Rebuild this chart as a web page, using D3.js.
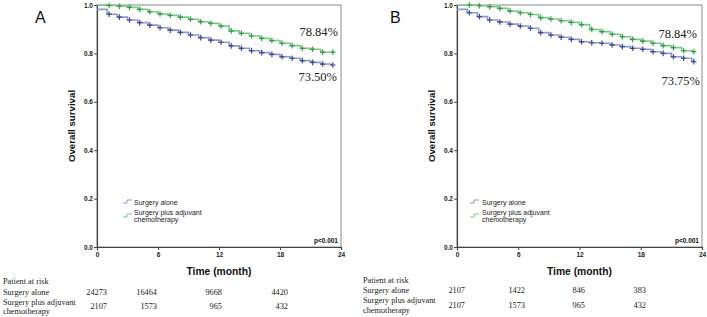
<!DOCTYPE html>
<html>
<head>
<meta charset="utf-8">
<script src="https://cdn.jsdelivr.net/npm/d3@7"></script>
<style>
  body { margin: 0; background: #fff; }
  svg { display: block; }
</style>
</head>
<body>
<svg id="chart" width="707" height="317"></svg>
<script>
// months where each step starts
const months = d3.range(0, 24);

// Panel A survival estimates
const aloneA = [0.982, 0.962, 0.950, 0.938, 0.927, 0.917, 0.906, 0.896, 0.887, 0.876, 0.865, 0.855,
                0.846, 0.831, 0.821, 0.811, 0.803, 0.796, 0.786, 0.780, 0.770, 0.763, 0.756, 0.752];
const chemoA = [1.000, 0.998, 0.995, 0.990, 0.982, 0.972, 0.963, 0.957, 0.950, 0.941, 0.931, 0.924,
                0.913, 0.893, 0.883, 0.872, 0.862, 0.853, 0.842, 0.832, 0.821, 0.817, 0.805, 0.805];

// Panel B survival estimates
const aloneB = [0.982, 0.968, 0.952, 0.938, 0.930, 0.921, 0.913, 0.904, 0.886, 0.876, 0.867, 0.858,
                0.848, 0.844, 0.842, 0.835, 0.828, 0.821, 0.817, 0.807, 0.800, 0.786, 0.780, 0.766];
const chemoB = [1.000, 1.000, 0.997, 0.993, 0.986, 0.975, 0.968, 0.961, 0.948, 0.942, 0.935, 0.928,
                0.919, 0.899, 0.890, 0.879, 0.869, 0.858, 0.851, 0.842, 0.832, 0.824, 0.811, 0.807];

const xTicks = [0, 6, 12, 18, 24];
const yTicks = [0.0, 0.2, 0.4, 0.6, 0.8, 1.0];

const seriesNames = ["Surgery alone", "Surgery plus adjuvant", "chemotherapy"];
const riskRowLabels = ["Patient at risk", "Surgery alone", "Surgery plus adjuvant", "chemotherapy"];
const riskAloneA = ["24273", "16464", "9668", "4420"];
const riskChemoA = ["2107", "1573", "965", "432"];
const riskAloneB = ["2107", "1422", "846", "383"];
const riskChemoB = ["2107", "1573", "965", "432"];

const endLabelsA = ["78.84%", "73.50%"];
const endLabelsB = ["78.84%", "73.75%"];

const blueLine = "#8f9ad0", blueMark = "#3a4898";
const greenLine = "#7cc98a", greenMark = "#2f9f43";

const svg = d3.select("#chart");

const panels = [
  { letter: "A", left: 97, right: 341, alone: aloneA, chemo: chemoA, ends: endLabelsA,
    letterX: 35, yLabelX: 75, legX: 123, legText: 134, labelX: 3,
    riskAlone: riskAloneA, riskChemo: riskChemoA, riskX: [107, 157, 222, 288],
    rowY: [283.5, 295, 304.5, 314], numY: [295, 309],
    endPos: [[338, 36], [337, 81]] },
  { letter: "B", left: 457, right: 702, alone: aloneB, chemo: chemoB, ends: endLabelsB,
    letterX: 390, yLabelX: 435, legX: 470, legText: 482, labelX: 363,
    riskAlone: riskAloneB, riskChemo: riskChemoB, riskX: [465, 525, 585, 646],
    rowY: [283, 292.5, 302.5, 312.5], numY: [292.5, 308],
    endPos: [[697, 38], [700, 85]] }
];

const plotTop = 5, plotBottom = 247;

panels.forEach(p => {
  const x = d3.scaleLinear().domain([0, 24]).range([p.left, p.right]);
  const y = d3.scaleLinear().domain([0, 1]).range([plotBottom, plotTop]);
  const g = svg.append("g");

  // frame
  g.append("rect")
    .attr("x", p.left).attr("y", plotTop)
    .attr("width", p.right - p.left).attr("height", plotBottom - plotTop)
    .attr("fill", "none").attr("stroke", "#8a8a8a").attr("stroke-width", 1);

  // axes
  const yAxis = g.append("g")
    .attr("transform", `translate(${p.left},0)`)
    .call(d3.axisLeft(y).tickValues(yTicks).tickFormat(d3.format(".1f")).tickSize(3));
  const xAxis = g.append("g")
    .attr("transform", `translate(0,${plotBottom})`)
    .call(d3.axisBottom(x).tickValues(xTicks).tickSize(3));
  [yAxis, xAxis].forEach(a => {
    a.select(".domain").attr("stroke", "#444").attr("stroke-width", 1.2);
    a.selectAll(".tick line").attr("stroke", "#444");
    a.selectAll("text")
      .attr("font-family", "Arial, 'Liberation Sans', sans-serif")
      .attr("font-weight", "bold").attr("font-size", 6.5).attr("fill", "#222");
  });
  yAxis.selectAll("text").attr("x", -4);
  xAxis.selectAll("text").attr("y", 5);

  // axis titles
  g.append("text")
    .attr("transform", `translate(${p.yLabelX},${(plotTop + plotBottom) / 2}) rotate(-90)`)
    .attr("text-anchor", "middle")
    .attr("font-family", "Arial, 'Liberation Sans', sans-serif")
    .attr("font-weight", "bold").attr("font-size", 9.7).attr("fill", "#111")
    .text("Overall survival");
  g.append("text")
    .attr("x", (p.left + p.right) / 2).attr("y", 275)
    .attr("text-anchor", "middle")
    .attr("font-family", "Arial, 'Liberation Sans', sans-serif")
    .attr("font-weight", "bold").attr("font-size", 10.3).attr("fill", "#111")
    .text("Time (month)");

  // panel letter
  g.append("text")
    .attr("x", p.letterX).attr("y", 23)
    .attr("font-family", "Arial, 'Liberation Sans', sans-serif")
    .attr("font-size", 16).attr("fill", "#111")
    .text(p.letter);

  // survival curves
  const line = d3.line().x(d => x(d[0])).y(d => y(d[1])).curve(d3.curveStepAfter);
  const curves = [
    { vals: p.alone, line: blueLine, mark: blueMark },
    { vals: p.chemo, line: greenLine, mark: greenMark }
  ];
  curves.forEach(c => {
    const pts = months.map((m, i) => [m, c.vals[i]]);
    pts.push([23.2, c.vals[c.vals.length - 1]]);
    g.append("path")
      .attr("d", line(pts))
      .attr("fill", "none").attr("stroke", c.line).attr("stroke-width", 1.6);
    const marks = months.slice(1).map(m => [m + 0.2, c.vals[m]]);
    g.append("g").selectAll("path")
      .data(marks)
      .join("path")
      .attr("d", d => {
        const cx = x(d[0]), cy = y(d[1]);
        return `M${cx - 2.6},${cy}H${cx + 2.6}M${cx},${cy - 2.8}V${cy + 2.8}`;
      })
      .attr("stroke", c.mark).attr("stroke-width", 1.2);
  });

  // end percentages
  p.ends.forEach((t, i) => {
    g.append("text")
      .attr("x", p.endPos[i][0]).attr("y", p.endPos[i][1])
      .attr("text-anchor", "end")
      .attr("font-family", "'Times New Roman', 'Liberation Serif', serif")
      .attr("font-size", 12.5).attr("fill", "#222")
      .text(t);
  });

  // legend
  const legend = [
    { color: blueLine, iy: 201.5, lines: [seriesNames[0]], ty: [204.5] },
    { color: greenLine, iy: 215.5, lines: [seriesNames[1], seriesNames[2]], ty: [214.5, 222] }
  ];
  legend.forEach(l => {
    g.append("path")
      .attr("d", `M${p.legX},${l.iy + 1.5}h4v-3h5`)
      .attr("fill", "none").attr("stroke", l.color).attr("stroke-width", 1);
    l.lines.forEach((t, i) => {
      g.append("text")
        .attr("x", p.legText).attr("y", l.ty[i])
        .attr("font-family", "Arial, 'Liberation Sans', sans-serif")
        .attr("font-size", 7).attr("fill", "#222")
        .text(t);
    });
  });

  // p value
  g.append("text")
    .attr("x", p.right - 3).attr("y", 242.5)
    .attr("text-anchor", "end")
    .attr("font-family", "Arial, 'Liberation Sans', sans-serif")
    .attr("font-weight", "bold").attr("font-size", 6.5).attr("fill", "#111")
    .text("p<0.001");

  // patients at risk table
  riskRowLabels.forEach((t, i) => {
    g.append("text")
      .attr("x", p.labelX).attr("y", p.rowY[i])
      .attr("font-family", "'Times New Roman', 'Liberation Serif', serif")
      .attr("font-size", 8.3).attr("fill", "#222")
      .text(t);
  });
  [p.riskAlone, p.riskChemo].forEach((row, r) => {
    row.forEach((v, i) => {
      g.append("text")
        .attr("x", p.riskX[i]).attr("y", p.numY[r])
        .attr("text-anchor", "end")
        .attr("font-family", "'Times New Roman', 'Liberation Serif', serif")
        .attr("font-size", 8.3).attr("fill", "#222")
        .text(v);
    });
  });
});
</script>
</body>
</html>
